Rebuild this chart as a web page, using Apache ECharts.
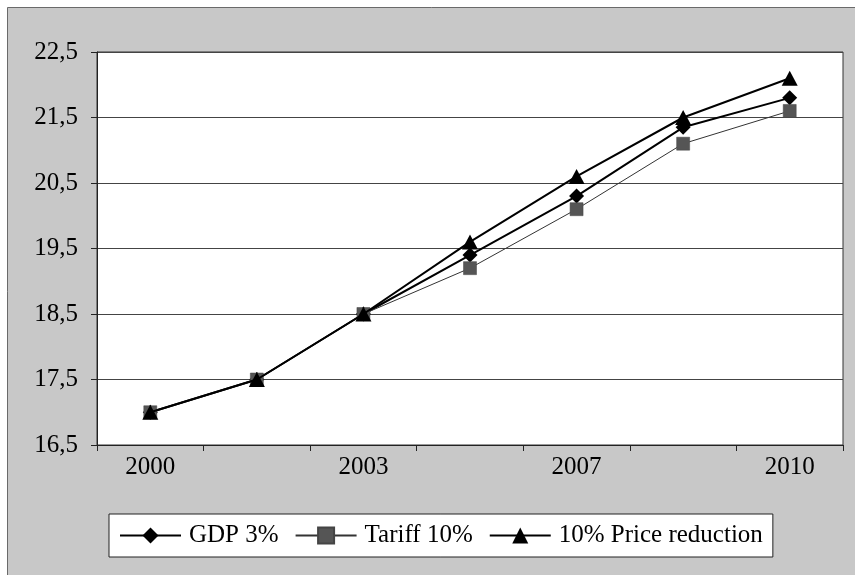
<!DOCTYPE html>
<html>
<head>
<meta charset="utf-8">
<script src="https://cdn.jsdelivr.net/npm/echarts@6/dist/echarts.min.js"></script>
<style>
  html, body { margin: 0; padding: 0; background: #fff; }
  #chart { width: 855px; height: 575px; }
</style>
</head>
<body>
<div id="chart"></div>
<script>
// Years along the horizontal axis (every other one is labelled)
const years = ['2000', '2001', '2003', '2005', '2007', '2008', '2010'];

// Scenario paths
const gdp3 = [17.0, 17.5, 18.5, 19.4, 20.3, 21.35, 21.8];
const tariff10 = [17.0, 17.5, 18.5, 19.2, 20.1, 21.1, 21.6];
const priceReduction10 = [17.0, 17.5, 18.5, 19.6, 20.6, 21.5, 22.1];

const seriesNames = ['GDP 3%', 'Tariff 10%', '10% Price reduction'];

const serif = 'Liberation Serif';

const chart = echarts.init(document.getElementById('chart'), null, { renderer: 'canvas' });

chart.setOption({
  animation: false,
  backgroundColor: '#fff',
  graphic: [{
    type: 'rect',
    z: -10,
    silent: true,
    shape: { x: 7.5, y: 7.5, width: 900, height: 700 },
    style: { fill: '#c8c8c8', stroke: '#6a6a6a', lineWidth: 1 }
  }],
  grid: {
    left: 97, right: 12, top: 52, bottom: 130,
    show: true,
    backgroundColor: '#fff',
    borderColor: '#333',
    borderWidth: 1,
    containLabel: false
  },
  legend: {
    data: seriesNames,
    left: 109,
    top: 514,
    orient: 'horizontal',
    backgroundColor: '#fff',
    borderColor: '#222',
    borderWidth: 1,
    borderRadius: 0,
    padding: [9, 10, 9, 10],
    itemGap: 16,
    itemWidth: 61,
    itemHeight: 20,
    textStyle: { fontFamily: serif, fontSize: 25, color: '#000', padding: [0, 0, 0, 3] }
  },
  xAxis: {
    type: 'category',
    data: years,
    boundaryGap: true,
    axisLine: { lineStyle: { color: '#222', width: 1 } },
    axisTick: { show: true, interval: 0, inside: false, length: 6, lineStyle: { color: '#222' } },
    axisLabel: {
      interval: 1,
      margin: 10,
      fontFamily: serif,
      fontSize: 25,
      color: '#000'
    },
    splitLine: { show: false }
  },
  yAxis: {
    type: 'value',
    min: 16.5,
    max: 22.5,
    interval: 1,
    axisLine: { show: true, lineStyle: { color: '#222', width: 1 } },
    axisTick: { show: true, inside: false, length: 6, lineStyle: { color: '#222' } },
    axisLabel: {
      margin: 19,
      fontFamily: serif,
      fontSize: 25,
      color: '#000',
      formatter: v => v.toFixed(1).replace('.', ',')
    },
    splitLine: { show: true, lineStyle: { color: '#444', width: 1 } }
  },
  series: [
    {
      name: seriesNames[0],
      type: 'line',
      data: gdp3,
      symbol: 'diamond',
      symbolSize: [15, 15],
      itemStyle: { color: '#000' },
      lineStyle: { color: '#000', width: 2 },
      z: 2
    },
    {
      name: seriesNames[1],
      type: 'line',
      data: tariff10,
      symbol: 'rect',
      symbolSize: 13,
      itemStyle: { color: '#555', borderColor: '#444', borderWidth: 0.5 },
      lineStyle: { color: '#333', width: 1 },
      z: 3
    },
    {
      name: seriesNames[2],
      type: 'line',
      data: priceReduction10,
      symbol: 'triangle',
      symbolSize: [16, 15],
      itemStyle: { color: '#000' },
      lineStyle: { color: '#000', width: 2 },
      z: 4
    }
  ]
});
</script>
</body>
</html>
